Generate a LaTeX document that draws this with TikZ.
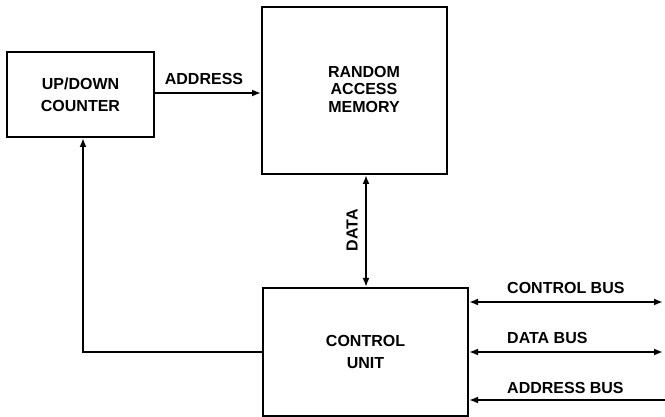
\documentclass[tikz,border=0pt]{standalone}
\usepackage{fontspec}
\setmainfont{Liberation Sans}
\usetikzlibrary{arrows.meta}
\begin{document}
\begin{tikzpicture}[x=1pt,y=-1pt,
  blk/.style={draw,line width=2pt,inner sep=0pt,align=center,font=\bfseries\fontsize{16}{22}\selectfont},
  lbl/.style={inner sep=0pt,font=\bfseries\fontsize{16}{18}\selectfont},
  conn/.style={line width=2pt},
  tip/.tip={Latex[length=9pt,width=7pt]}]
\useasboundingbox (0,0) rectangle (665,417);
% boxes
\node[blk,minimum width=147pt,minimum height=85pt] (ctr) at (80.5,94.5) {UP/DOWN\\COUNTER};
\node[blk,minimum width=185pt,minimum height=167pt] (ram) at (354.5,90.5) {};
\node[lbl,align=center,font=\bfseries\fontsize{16}{17.5}\selectfont] (ramt) at (364,89) {RANDOM\\ACCESS\\MEMORY};
\node[blk,minimum width=205pt,minimum height=128pt] (cu) at (365.5,352) {CONTROL\\UNIT};
% address
\draw[conn,-tip] (ctr.east |- 0,93) -- (ram.west |- 0,93);
\node[lbl] (addr) at (204,79) {ADDRESS};
% data
\draw[conn,tip-tip] (366,0 |- ram.south) -- (366,0 |- cu.north);
\node[lbl,rotate=90] (data) at (352,230) {DATA};
% feedback
\draw[conn,-tip] (cu.west |- 0,352) -| (83,0 |- ctr.south);
% buses
\coordinate (cb) at (663,302);
\coordinate (db) at (663,352);
\coordinate (ab) at (665,400);
\draw[conn,tip-tip] (cu.east |- cb) -- (cb);
\draw[conn,tip-tip] (cu.east |- db) -- (db);
\draw[conn,tip-] (cu.east |- ab) -- (ab);
\node[lbl,anchor=west] (cbl) at (507,288) {CONTROL BUS};
\node[lbl,anchor=west] (dbl) at (507,338) {DATA BUS};
\node[lbl,anchor=west] (abl) at (507,388) {ADDRESS BUS};
\end{tikzpicture}
\end{document}
